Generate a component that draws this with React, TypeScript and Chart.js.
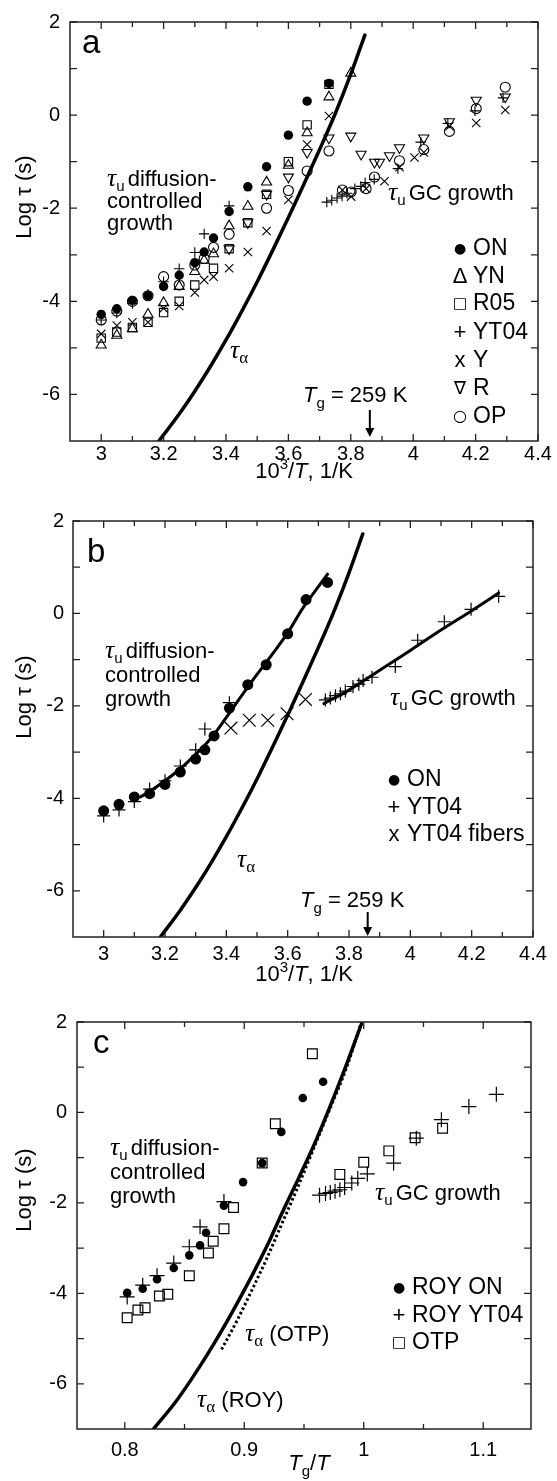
import React, { useEffect, useRef } from 'react';
import { Chart, registerables } from 'chart.js';

Chart.register(...registerables);

type P = [number, number];

// ---------------- Panel a data ----------------
const aON: P[] = [[3.0,-4.28],[3.05,-4.16],[3.1,-3.98],[3.15,-3.88],[3.2,-3.68],[3.25,-3.44],[3.3,-3.17],[3.33,-2.94],[3.36,-2.64],[3.41,-2.07],[3.47,-1.54],[3.53,-1.11],[3.6,-0.43],[3.66,0.3],[3.73,0.68]];
const aYN: P[] = [[3.0,-4.94],[3.05,-4.73],[3.1,-4.59],[3.15,-4.28],[3.2,-4.03],[3.25,-3.68],[3.3,-3.36],[3.33,-3.12],[3.36,-2.98],[3.41,-2.38],[3.47,-1.96],[3.53,-1.44],[3.6,-1.08],[3.66,-0.38],[3.73,0.39],[3.8,0.9]];
const aR05: P[] = [[3.0,-4.79],[3.05,-4.66],[3.1,-4.56],[3.15,-4.45],[3.2,-4.24],[3.25,-4.0],[3.3,-3.65],[3.36,-3.29],[3.41,-2.87],[3.47,-2.31],[3.53,-1.7],[3.6,-1.0],[3.66,-0.21],[3.73,0.66]];
const aYT04: P[] = [[3.0,-4.4],[3.05,-4.25],[3.1,-4.05],[3.15,-3.85],[3.2,-3.58],[3.25,-3.3],[3.3,-2.95],[3.33,-2.55],[3.41,-1.95],[3.723,-1.87],[3.739,-1.83],[3.756,-1.78],[3.772,-1.74],[3.788,-1.68],[3.813,-1.58],[3.832,-1.53],[3.846,-1.45],[3.875,-1.38],[3.951,-1.15],[4.024,-0.58],[4.111,-0.18],[4.198,0.09],[4.288,0.37]];
const aY: P[] = [[3.0,-4.7],[3.05,-4.52],[3.1,-4.45],[3.15,-4.45],[3.2,-4.15],[3.25,-4.1],[3.3,-3.81],[3.33,-3.54],[3.36,-3.47],[3.41,-3.29],[3.47,-2.94],[3.53,-2.49],[3.6,-1.82],[3.66,-0.63],[3.73,-0.02],[3.773,-1.61],[3.801,-1.75],[3.849,-1.58],[3.908,-1.42],[3.956,-1.12],[4.004,-0.91],[4.034,-0.8],[4.116,-0.24],[4.202,-0.17],[4.295,0.11]];
const aR: P[] = [[3.41,-2.87],[3.47,-2.31],[3.53,-1.7],[3.6,-1.33],[3.66,-0.8],[3.73,-0.49],[3.8,-0.45],[3.833,-0.84],[3.876,-1.01],[3.892,-1.01],[3.924,-0.87],[3.956,-0.7],[4.034,-0.49],[4.116,-0.14],[4.202,0.32],[4.295,0.39]];
const aOP: P[] = [[3.0,-4.4],[3.05,-4.21],[3.1,-4.0],[3.15,-3.88],[3.2,-3.47],[3.25,-3.65],[3.3,-3.22],[3.33,-3.08],[3.36,-2.84],[3.41,-2.56],[3.53,-2.0],[3.6,-1.62],[3.66,-1.2],[3.73,-0.77],[3.773,-1.61],[3.801,-1.65],[3.849,-1.58],[3.876,-1.33],[3.956,-0.98],[4.034,-0.74],[4.116,-0.35],[4.202,0.14],[4.295,0.6]];
const tauAlphaAB: P[] = [[3.185,-7.0],[3.25,-6.42],[3.3,-5.93],[3.35,-5.4],[3.4,-4.83],[3.45,-4.22],[3.5,-3.58],[3.55,-2.9],[3.6,-2.2],[3.65,-1.48],[3.7,-0.74],[3.75,0.03],[3.8,0.88],[3.845,1.72]];
const legendA = ['ON', 'YN', 'R05', 'YT04', 'Y', 'R', 'OP'];

// ---------------- Panel b data ----------------
const bON: P[] = [[3.0,-4.27],[3.05,-4.13],[3.1,-3.97],[3.15,-3.9],[3.2,-3.7],[3.25,-3.43],[3.3,-3.15],[3.33,-2.95],[3.36,-2.65],[3.41,-2.05],[3.47,-1.54],[3.53,-1.11],[3.6,-0.44],[3.66,0.3],[3.73,0.67]];
const bYT04: P[] = [[3.0,-4.38],[3.05,-4.25],[3.1,-4.07],[3.15,-3.8],[3.2,-3.62],[3.25,-3.3],[3.3,-2.95],[3.33,-2.5],[3.41,-1.93],[3.723,-1.87],[3.739,-1.83],[3.756,-1.78],[3.772,-1.74],[3.788,-1.68],[3.813,-1.58],[3.832,-1.53],[3.846,-1.45],[3.875,-1.38],[3.951,-1.15],[4.024,-0.58],[4.111,-0.18],[4.198,0.09],[4.288,0.37]];
const bFibers: P[] = [[3.415,-2.48],[3.475,-2.31],[3.535,-2.31],[3.598,-2.17],[3.658,-1.86]];
const bDiffFit: P[] = [[3.12,-3.97],[3.15,-3.85],[3.2,-3.62],[3.25,-3.36],[3.3,-3.05],[3.35,-2.7],[3.4,-2.25],[3.45,-1.78],[3.5,-1.32],[3.55,-0.88],[3.6,-0.42],[3.65,0.12],[3.7,0.58],[3.73,0.85]];
const bGCFit: P[] = [[3.718,-1.95],[3.794,-1.68],[3.9,-1.23],[4.0,-0.8],[4.1,-0.36],[4.2,0.06],[4.288,0.44]];
const legendB = ['ON', 'YT04', 'YT04 fibers'];

// ---------------- Panel c data ----------------
const cON: P[] = [[0.802,-3.99],[0.815,-3.9],[0.827,-3.69],[0.841,-3.44],[0.854,-3.16],[0.863,-2.94],[0.868,-2.66],[0.883,-2.06],[0.899,-1.54],[0.915,-1.12],[0.931,-0.43],[0.949,0.32],[0.966,0.68]];
const cYT04: P[] = [[0.802,-4.08],[0.815,-3.82],[0.827,-3.61],[0.841,-3.33],[0.854,-2.97],[0.863,-2.53],[0.883,-1.97],[0.963,-1.83],[0.968,-1.79],[0.972,-1.77],[0.976,-1.74],[0.98,-1.71],[0.984,-1.66],[0.99,-1.56],[0.995,-1.46],[1.003,-1.36],[1.025,-1.12],[1.044,-0.57],[1.065,-0.16],[1.088,0.13],[1.111,0.4]];
const cOTP: P[] = [[0.802,-4.54],[0.811,-4.37],[0.817,-4.32],[0.829,-4.06],[0.836,-4.02],[0.854,-3.61],[0.87,-3.11],[0.874,-2.85],[0.883,-2.57],[0.891,-2.1],[0.915,-1.12],[0.926,-0.25],[0.957,1.3],[0.98,-1.37],[1.0,-1.1],[1.021,-0.85],[1.043,-0.56],[1.066,-0.35]];
const cTauROY: P[] = [[0.824,-7.0],[0.842,-6.42],[0.855,-5.93],[0.868,-5.4],[0.881,-4.83],[0.894,-4.22],[0.907,-3.58],[0.92,-2.9],[0.932,-2.2],[0.945,-1.48],[0.958,-0.74],[0.971,0.08],[0.984,0.95],[0.998,1.95]];
const cTauOTP: P[] = [[0.881,-5.24],[0.894,-4.6],[0.906,-3.95],[0.918,-3.28],[0.93,-2.55],[0.944,-1.7],[0.958,-0.8],[0.972,0.1],[0.986,1.02],[0.998,2.0]];
const legendC = ['ROY ON', 'ROY YT04', 'OTP'];

// ---------------- ticks ----------------
const xMajAB = [3, 3.2, 3.4, 3.6, 3.8, 4, 4.2, 4.4];
const xMinAB = [3.1, 3.3, 3.5, 3.7, 3.9, 4.1, 4.3];
const xMajC = [0.8, 0.9, 1, 1.1];
const xMinC = [0.85, 0.95, 1.05];
const yMaj = [-6, -4, -2, 0, 2];
const yMin = [-5, -3, -1, 1];
const TG_INV = 1000 / 259;

// ---------------- styling helpers ----------------
const SANS = '"Liberation Sans", Arial, Helvetica, sans-serif';
const SERIF = '"Liberation Serif", "Times New Roman", serif';
const SYM = '"DejaVu Sans", "Liberation Sans", sans-serif';
const f = (size: number, fam = SANS, style = '') => `${style} ${size}px ${fam}`.trim();

const pts = (a: P[]) => a.map(([x, y]) => ({ x, y }));
function markers(data: P[], style: string, r: number, filled: boolean, rot = 0, bw = 1.1): any {
  return {
    type: 'scatter', data: pts(data), pointStyle: style, pointRadius: r, pointHoverRadius: r,
    pointRotation: rot, pointBackgroundColor: filled ? '#000' : 'rgba(0,0,0,0)',
    pointBorderColor: '#000', pointBorderWidth: filled ? 0 : bw, showLine: false,
  };
}
function curve(data: P[], w: number, dash?: number[]): any {
  return {
    type: 'scatter', data: pts(data), showLine: true, pointRadius: 0, pointHoverRadius: 0,
    borderColor: '#000', borderWidth: w, borderDash: dash || [], cubicInterpolationMode: 'monotone',
    fill: false, borderCapStyle: dash ? 'butt' : 'round',
  };
}
const fmt = (v: any) => String(Math.round(Number(v) * 100) / 100);

function axes(xmin: number, xmax: number, xMaj: number[], xPad: number, xH: number, yW: number, yPad: number): any {
  return {
    x: {
      type: 'linear', position: 'bottom', min: xmin, max: xmax,
      grid: { display: false, drawTicks: false }, border: { display: false },
      ticks: { color: '#000', font: { family: SANS, size: 20 }, padding: xPad, maxRotation: 0, autoSkip: false, callback: fmt },
      afterBuildTicks: (s: any) => { s.ticks = xMaj.map((v) => ({ value: v })); },
      afterFit: (s: any) => { s.height = xH; },
    },
    y: {
      type: 'linear', position: 'left', min: -7, max: 2,
      grid: { display: false, drawTicks: false }, border: { display: false },
      ticks: { color: '#000', font: { family: SANS, size: 20 }, padding: yPad, autoSkip: false, callback: fmt },
      afterBuildTicks: (s: any) => { s.ticks = yMaj.map((v) => ({ value: v })); },
      afterFit: (s: any) => { s.width = yW; },
    },
  };
}

type Run = [string, string, number?, number?];
function drawRuns(ctx: CanvasRenderingContext2D, rs: Run[], x: number, y: number, align: 'left' | 'center' = 'left') {
  ctx.textAlign = 'left';
  let w = 0;
  for (const [t, fo, , dx] of rs) { ctx.font = fo; w += ctx.measureText(t).width + (dx || 0); }
  let cx = align === 'center' ? x - w / 2 : x;
  for (const [t, fo, dy, dx] of rs) {
    cx += dx || 0;
    ctx.font = fo;
    ctx.fillText(t, cx, y + (dy || 0));
    cx += ctx.measureText(t).width;
  }
}

const TAU = f(26, SERIF, 'italic');
const SUB = f(15);
const SUBA = f(17, SERIF);
const TXT = f(22);

function frameAndTicks(chart: any, xMaj: number[], xMin: number[]) {
  const { ctx, chartArea } = chart;
  const { left, right, top, bottom } = chartArea;
  const sx = chart.scales.x, sy = chart.scales.y;
  ctx.save();
  ctx.strokeStyle = '#222';
  ctx.lineWidth = 1.5;
  ctx.strokeRect(left, top, right - left, bottom - top);
  ctx.lineWidth = 1.3;
  ctx.beginPath();
  const xt = (vals: number[], len: number) => vals.forEach((v) => {
    const p = sx.getPixelForValue(v);
    ctx.moveTo(p, bottom); ctx.lineTo(p, bottom - len);
    ctx.moveTo(p, top); ctx.lineTo(p, top + len);
  });
  xt(xMaj, 7); xt(xMin, 5);
  [...yMaj, ...yMin].forEach((v) => {
    const p = sy.getPixelForValue(v);
    ctx.moveTo(left, p); ctx.lineTo(left + 7, p);
    ctx.moveTo(right, p); ctx.lineTo(right - 7, p);
  });
  ctx.stroke();
  ctx.restore();
}

function diffusionLabel(ctx: CanvasRenderingContext2D, x: number, ys: number[]) {
  drawRuns(ctx, [['τ', TAU], ['u', SUB, 5], ['diffusion-', TXT, 0, 3]], x, ys[0]);
  drawRuns(ctx, [['controlled', TXT]], x, ys[1]);
  drawRuns(ctx, [['growth', TXT]], x, ys[2]);
}
function gcLabel(ctx: CanvasRenderingContext2D, x: number, y: number) {
  drawRuns(ctx, [['τ', TAU], ['u', SUB, 5], ['GC growth', TXT, 0, 3]], x, y);
}
function tgLabel(chart: any, x: number, y: number, a0: number, a1: number) {
  const ctx = chart.ctx;
  drawRuns(ctx, [['T', f(22, SANS, 'italic')], ['g', SUB, 6], [' = 259 K', TXT]], x, y);
  const px = chart.scales.x.getPixelForValue(TG_INV);
  ctx.save();
  ctx.strokeStyle = '#000'; ctx.lineWidth = 2;
  ctx.beginPath(); ctx.moveTo(px, a0); ctx.lineTo(px, a1 - 7); ctx.stroke();
  ctx.beginPath(); ctx.moveTo(px - 4.5, a1 - 9); ctx.lineTo(px + 4.5, a1 - 9); ctx.lineTo(px, a1); ctx.closePath(); ctx.fill();
  ctx.restore();
}
const GLYPH: Record<string, string> = {
  '●': f(14, SYM), 'Δ': f(22), '□': f(15, SYM), '+': f(22), 'x': f(22), '∇': f(18, SYM), '○': f(16, SYM),
};
function legend(ctx: CanvasRenderingContext2D, mx: number, tx: number, ys: number[], glyphs: string[], labels: string[]) {
  ctx.save();
  ctx.textBaseline = 'middle';
  ys.forEach((y, i) => {
    ctx.textAlign = 'center';
    ctx.font = GLYPH[glyphs[i]];
    ctx.fillText(glyphs[i], mx, y);
    ctx.textAlign = 'left';
    ctx.font = f(23);
    ctx.fillText(labels[i], tx, y);
  });
  ctx.restore();
}
function yTitle(ctx: CanvasRenderingContext2D, x: number, y: number) {
  ctx.save();
  ctx.translate(x, y);
  ctx.rotate(-Math.PI / 2);
  ctx.textBaseline = 'middle';
  drawRuns(ctx, [['Log ', TXT], ['τ', TXT], [' (s)', TXT]], 0, 0, 'center');
  ctx.restore();
}
function xTitleAB(ctx: CanvasRenderingContext2D, x: number, y: number) {
  drawRuns(ctx, [['10', TXT], ['3', f(15), -9], ['/', TXT], ['T', f(22, SANS, 'italic')], [', 1/K', TXT]], x, y, 'center');
}
function xTitleC(ctx: CanvasRenderingContext2D, x: number, y: number) {
  drawRuns(ctx, [['T', f(22, SANS, 'italic')], ['g', SUB, 6], ['/', TXT], ['T', f(22, SANS, 'italic')]], x, y, 'center');
}

function baseConfig(datasets: any[], scales: any, pad: any, deco: (c: any) => void): any {
  return {
    type: 'scatter',
    data: { datasets },
    options: {
      animation: false, responsive: false, events: [],
      layout: { padding: pad, autoPadding: false },
      scales,
      plugins: { legend: { display: false }, tooltip: { enabled: false } },
    },
    plugins: [{
      id: 'deco',
      afterDraw: (chart: any) => {
        const ctx = chart.ctx;
        ctx.save();
        ctx.fillStyle = '#000';
        ctx.textBaseline = 'alphabetic';
        deco(chart);
        ctx.restore();
      },
    }],
  };
}

function configA() {
  const ds = [
    curve(tauAlphaAB, 3.5),
    markers(aON, 'circle', 4.7, true),
    markers(aYN, 'triangle', 5.8, false),
    markers(aR05, 'rect', 5.9, false),
    markers(aYT04, 'cross', 5.2, false),
    markers(aY, 'crossRot', 5.9, false),
    markers(aR, 'triangle', 5.8, false, 180),
    markers(aOP, 'circle', 5, false),
  ];
  return baseConfig(ds, axes(2.9, 4.4, xMajAB, 1, 59, 70, 10), { left: 0, right: 19, top: 13.5, bottom: 0 }, (chart) => {
    const ctx = chart.ctx;
    frameAndTicks(chart, xMajAB, xMinAB);
    drawRuns(ctx, [['a', f(33)]], 82, 53);
    diffusionLabel(ctx, 107, [186, 208, 230]);
    gcLabel(ctx, 388, 200);
    drawRuns(ctx, [['τ', TAU], ['α', SUBA, 5]], 230, 358);
    tgLabel(chart, 303, 402, 410, 437);
    legend(ctx, 460, 473, [249, 277, 304, 333, 361, 389, 417], ['●', 'Δ', '□', '+', 'x', '∇', '○'], legendA);
    yTitle(ctx, 25, 197);
    xTitleAB(ctx, 304, 478);
  });
}

function configB() {
  const ds = [
    curve(tauAlphaAB, 3.5),
    curve(bDiffFit, 3),
    curve(bGCFit, 3),
    markers(bON, 'circle', 5.5, true),
    markers(bYT04, 'cross', 6.5, false, 0, 1.2),
    markers(bFibers, 'crossRot', 9, false, 0, 1.2),
  ];
  return baseConfig(ds, axes(2.9, 4.4, xMajAB, 5, 63, 73, 9), { left: 0, right: 24, top: 17, bottom: 0 }, (chart) => {
    const ctx = chart.ctx;
    frameAndTicks(chart, xMajAB, xMinAB);
    drawRuns(ctx, [['b', f(33)]], 87, 62);
    diffusionLabel(ctx, 105, [158, 182, 206]);
    gcLabel(ctx, 390, 205);
    drawRuns(ctx, [['τ', TAU], ['α', SUBA, 5]], 237, 367);
    tgLabel(chart, 300, 407, 412, 436);
    legend(ctx, 394, 407, [280, 308, 335], ['●', '+', 'x'], legendB);
    yTitle(ctx, 25, 197);
    xTitleAB(ctx, 304, 481);
  });
}

function configC() {
  const ds = [
    curve(cTauROY, 3.5),
    curve(cTauOTP, 3, [2.5, 2.5]),
    markers(cON, 'circle', 4.3, true),
    markers(cYT04, 'cross', 7.5, false, 0, 1.2),
    markers(cOTP, 'rect', 6.9, false, 0, 1.2),
  ];
  return baseConfig(ds, axes(0.76, 1.14, xMajC, 9, 52, 77, 10), { left: 0, right: 26, top: 16, bottom: 0 }, (chart) => {
    const ctx = chart.ctx;
    frameAndTicks(chart, xMajC, xMinC);
    drawRuns(ctx, [['c', f(33)]], 93, 53);
    diffusionLabel(ctx, 110, [155, 179, 203]);
    gcLabel(ctx, 375, 200);
    drawRuns(ctx, [['τ', TAU], ['α', SUBA, 5], [' (OTP)', TXT]], 245, 341);
    drawRuns(ctx, [['τ', TAU], ['α', SUBA, 5], [' (ROY)', TXT]], 197, 407);
    legend(ctx, 399, 412, [288, 316, 343], ['●', '+', '□'], legendC);
    yTitle(ctx, 25, 190);
    xTitleC(ctx, 309, 470);
  });
}

function Panel({ top, height, build }: { top: number; height: number; build: () => any }) {
  const ref = useRef<HTMLCanvasElement>(null);
  useEffect(() => {
    const chart = new Chart(ref.current as HTMLCanvasElement, build());
    return () => chart.destroy();
  }, []);
  return (
    <canvas ref={ref} width={557} height={height}
      style={{ position: 'absolute', left: 0, top, width: 557, height, display: 'block' }} />
  );
}

export default function App() {
  return (
    <div style={{ position: 'absolute', left: 0, top: 0, width: 557, height: 1481, background: '#fff', overflow: 'hidden' }}>
      <Panel top={0} height={500} build={configA} />
      <Panel top={500} height={500} build={configB} />
      <Panel top={1000} height={481} build={configC} />
    </div>
  );
}
